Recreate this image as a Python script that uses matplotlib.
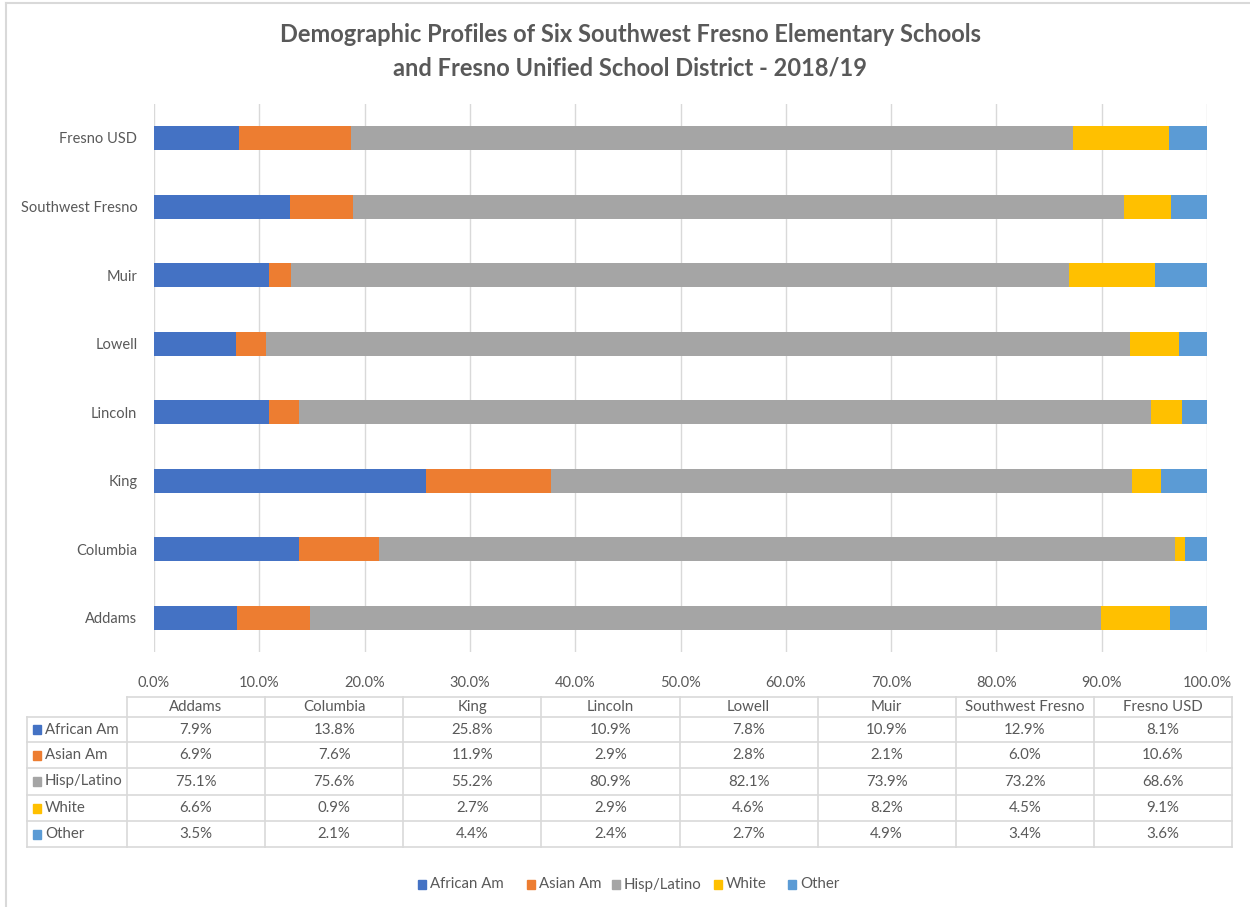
import matplotlib
matplotlib.use("Agg")
import matplotlib.pyplot as plt
from matplotlib.patches import Rectangle
import numpy as np

schools = ["Addams", "Columbia", "King", "Lincoln", "Lowell", "Muir", "Southwest Fresno", "Fresno USD"]
groups = ["African Am", "Asian Am", "Hisp/Latino", "White", "Other"]
african_am = [7.9, 13.8, 25.8, 10.9, 7.8, 10.9, 12.9, 8.1]
asian_am = [6.9, 7.6, 11.9, 2.9, 2.8, 2.1, 6.0, 10.6]
hisp_latino = [75.1, 75.6, 55.2, 80.9, 82.1, 73.9, 73.2, 68.6]
white = [6.6, 0.9, 2.7, 2.9, 4.6, 8.2, 4.5, 9.1]
other = [3.5, 2.1, 4.4, 2.4, 2.7, 4.9, 3.4, 3.6]
series = [african_am, asian_am, hisp_latino, white, other]
colors = ["#4472C4", "#ED7D31", "#A5A5A5", "#FFC000", "#5B9BD5"]
xticks = [0, 10, 20, 30, 40, 50, 60, 70, 80, 90, 100]

plt.rcParams['font.family'] = ['Lato', 'DejaVu Sans']
TXT = "#595959"
W, H = 1250, 907
fig = plt.figure(figsize=(W / 100, H / 100), dpi=100)

ax = fig.add_axes([154 / W, 1 - 652 / H, (1207 - 154) / W, (652 - 103.7) / H])
y = np.arange(len(schools))
left = np.zeros(len(schools))
for vals, c, g in zip(series, colors, groups):
    ax.barh(y, vals, left=left, height=0.35, color=c, label=g, zorder=3)
    left = left + np.array(vals)
ax.set_xlim(0, 100)
ax.set_ylim(-0.5, len(schools) - 0.5)
ax.set_xticks(xticks)
ax.set_xticklabels([f"{t:.1f}%" for t in xticks], color=TXT, fontsize=10.5)
ax.set_yticks(y)
ax.set_yticklabels(schools, color=TXT, fontsize=10.5)
ax.tick_params(length=0, pad=12)
ax.tick_params(axis='x', pad=17)
for s in ax.spines.values():
    s.set_visible(False)
ax.grid(axis='x', color="#D9D9D9", lw=1, zorder=0)

ov2 = fig.add_axes([0, 0, 1, 1])
ov2.set_xlim(0, W)
ov2.set_ylim(H, 0)
ov2.axis('off')
ov2.patch.set_alpha(0)

ov2.plot([6, 6], [3, H], color="#D9D9D9", lw=1.5)
ov2.plot([6, W], [3, 3], color="#D9D9D9", lw=1.5)

ov2.text(630, 35, "Demographic Profiles of Six Southwest Fresno Elementary Schools",
         ha='center', va='center', fontsize=17, fontweight='bold', color=TXT)
ov2.text(630, 68, "and Fresno Unified School District - 2018/19",
         ha='center', va='center', fontsize=17, fontweight='bold', color=TXT)

# data table
lc = "#D9D9D9"
x0, xl, xr = 27, 127, 1232
colw = (xr - xl) / len(schools)
rows_y = [697, 717, 742, 768, 795, 821, 847]
ov2.plot([xl, xr], [rows_y[0], rows_y[0]], color=lc, lw=1.2)
for i in range(len(schools) + 1):
    xx = xl + i * colw
    ov2.plot([xx, xx], [rows_y[0], rows_y[-1]], color=lc, lw=1.2)
ov2.plot([x0, x0], [rows_y[1], rows_y[-1]], color=lc, lw=1.2)
for yy in rows_y[1:]:
    ov2.plot([x0, xr], [yy, yy], color=lc, lw=1.2)
for i, s in enumerate(schools):
    ov2.text(xl + (i + 0.5) * colw, (rows_y[0] + rows_y[1]) / 2, s, ha='center', va='center',
             fontsize=10.8, color=TXT)
for r, (g, vals, c) in enumerate(zip(groups, series, colors)):
    yc = (rows_y[r + 1] + rows_y[r + 2]) / 2
    ov2.add_patch(Rectangle((33, yc - 4.5), 8, 9, color=c))
    ov2.text(45, yc, g, ha='left', va='center', fontsize=10.8, color=TXT)
    for i, v in enumerate(vals):
        ov2.text(xl + (i + 0.5) * colw, yc, f"{v:.1f}%", ha='center', va='center',
                 fontsize=10.8, color=TXT)

# legend
leg_x = [418, 527, 612, 714, 788]
for lx, g, c in zip(leg_x, groups, colors):
    ov2.add_patch(Rectangle((lx, 880), 8, 9, color=c))
    ov2.text(lx + 12, 884.5, g, ha='left', va='center', fontsize=10.8, color=TXT)

fig.savefig("out.png", dpi=100)
